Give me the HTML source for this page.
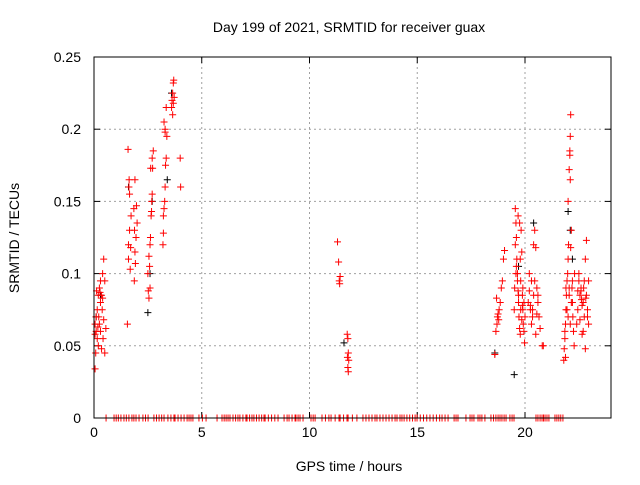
<!DOCTYPE html>
<html><head><meta charset="utf-8"><style>
body{margin:0;background:#fff;width:640px;height:480px;overflow:hidden}
svg text{font-family:"Liberation Sans",sans-serif;font-size:14px;fill:#000}
</style></head><body>
<svg id="chart" width="640" height="480" xmlns="http://www.w3.org/2000/svg">
<text x="349" y="32" text-anchor="middle">Day 199 of 2021, SRMTID for receiver guax</text>
<text x="349" y="471" text-anchor="middle">GPS time / hours</text>
<text transform="translate(19,238) rotate(-90)" text-anchor="middle">SRMTID / TECUs</text>
<g id="grid"></g><g id="ticks"></g><g id="black"></g><g id="red"></g>
<rect x="94" y="57" width="517" height="361" fill="none" stroke="#000" stroke-width="1"/>
</svg>
<script>
const xTicks=[0,5,10,15,20];
const yTicks=[0,0.05,0.1,0.15,0.2,0.25];
const yTickLabels=["0","0.05","0.1","0.15","0.2","0.25"];
const redT=[0.05,0.05,0.1,0.1,0.15,0.15,0.2,0.2,0.25,0.25,0.3,0.3,0.35,0.35,0.4,0.4,0.45,0.45,0.5,0.5,0.55,0.08,0.12,0.22,0.3,0.38,0.18,0.42,0.05,0.28,
1.55,1.58,1.6,1.6,1.62,1.63,1.65,1.65,1.68,1.7,1.72,1.85,1.88,1.9,1.92,1.95,1.97,2.0,1.9,1.87,
2.5,2.52,2.55,2.58,2.6,2.62,2.65,2.68,2.7,2.72,2.75,2.6,2.63,2.67,2.55,2.7,
3.2,3.22,3.25,3.28,3.3,3.32,3.35,3.38,3.3,3.25,3.35,3.22,3.3,
3.6,3.62,3.65,3.68,3.7,3.72,3.65,3.68,4.0,4.02,
11.3,11.35,11.38,11.4,11.42,11.75,11.78,11.8,11.82,11.78,11.8,11.76,
18.6,18.65,18.7,18.72,18.75,18.8,18.85,18.9,18.95,19.0,19.05,18.68,18.78,
19.5,19.52,19.55,19.58,19.6,19.62,19.65,19.68,19.7,19.72,19.75,19.78,19.8,19.82,19.85,19.88,19.9,19.92,19.95,19.98,20.0,19.55,19.6,19.65,19.7,19.75,19.8,19.85,19.9,19.95,19.58,19.68,19.78,19.88,
20.15,20.2,20.25,20.3,20.35,20.4,20.45,20.5,20.55,20.6,20.65,20.7,20.8,20.85,20.2,20.3,20.4,20.5,20.6,20.25,20.35,20.45,20.55,
21.8,21.82,21.85,21.88,21.9,21.92,21.95,21.98,22.0,22.02,22.05,22.08,22.1,22.12,22.15,22.18,22.2,22.22,22.25,22.28,22.3,21.85,21.9,21.95,22.0,22.05,22.1,22.15,22.2,21.88,22.0,22.1,22.08,22.12,22.05,
22.4,22.45,22.5,22.55,22.6,22.65,22.7,22.75,22.8,22.85,22.9,22.95,22.5,22.6,22.7,22.8,22.9,22.45,22.55,22.65,22.75,22.85,22.95,22.62,22.72,22.82];
const redV=[0.034,0.065,0.06,0.07,0.055,0.075,0.05,0.085,0.065,0.09,0.08,0.06,0.085,0.048,0.1,0.083,0.11,0.068,0.095,0.045,0.062,0.045,0.088,0.07,0.095,0.075,0.063,0.055,0.058,0.087,
0.065,0.186,0.11,0.12,0.16,0.165,0.155,0.13,0.103,0.118,0.14,0.145,0.13,0.115,0.107,0.125,0.147,0.135,0.165,0.095,
0.1,0.088,0.083,0.105,0.12,0.125,0.14,0.15,0.155,0.173,0.185,0.09,0.173,0.143,0.112,0.18,
0.12,0.14,0.145,0.15,0.16,0.175,0.18,0.195,0.2,0.205,0.215,0.128,0.198,
0.215,0.22,0.225,0.232,0.234,0.222,0.21,0.218,0.18,0.16,
0.122,0.108,0.095,0.093,0.098,0.058,0.055,0.045,0.04,0.035,0.032,0.042,
0.044,0.06,0.065,0.07,0.072,0.075,0.08,0.09,0.095,0.11,0.116,0.083,0.068,
0.075,0.09,0.145,0.135,0.125,0.11,0.1,0.088,0.08,0.07,0.062,0.11,0.095,0.13,0.115,0.085,0.075,0.065,0.06,0.052,0.07,0.12,0.105,0.095,0.085,0.135,0.075,0.068,0.09,0.08,0.1,0.14,0.058,0.078,
0.08,0.088,0.075,0.095,0.07,0.085,0.13,0.118,0.09,0.08,0.07,0.062,0.05,0.05,0.1,0.065,0.12,0.058,0.085,0.078,0.075,0.095,0.072,
0.04,0.048,0.055,0.065,0.075,0.085,0.095,0.1,0.11,0.12,0.172,0.182,0.195,0.21,0.13,0.09,0.08,0.07,0.06,0.05,0.1,0.06,0.09,0.075,0.07,0.085,0.065,0.08,0.095,0.042,0.15,0.165,0.185,0.118,0.09,
0.065,0.075,0.1,0.085,0.09,0.078,0.06,0.095,0.11,0.085,0.07,0.065,0.095,0.088,0.08,0.048,0.075,0.088,0.068,0.058,0.07,0.123,0.095,0.082,0.09,0.083];
const blackT=[0.1,0.3,1.6,2.5,2.6,2.7,3.4,3.6,11.6,18.6,19.5,19.7,20.4,22.0,22.1,22.2];
const blackV=[0.07,0.085,0.16,0.073,0.1,0.15,0.165,0.225,0.052,0.045,0.03,0.105,0.135,0.143,0.13,0.11];
const zeroT=[0.56,0.93,1.03,1.13,1.25,1.39,1.5,1.62,1.76,1.85,1.95,2.09,2.27,2.39,2.51,2.78,2.9,3.02,3.14,3.25,3.43,3.57,3.71,3.76,3.9,4.04,4.18,4.32,4.41,4.5,4.59,4.87,5.03,5.2,5.71,5.94,6.04,6.13,6.22,6.31,6.45,6.57,6.68,6.77,6.91,7.05,7.1,7.22,7.33,7.42,7.54,7.66,7.78,7.89,7.94,8.09,8.24,8.39,8.54,8.82,8.96,9.05,9.19,9.33,9.37,9.47,9.56,9.7,10.07,10.17,10.26,10.58,10.74,10.9,11.0,11.19,11.37,11.42,11.58,11.74,11.79,11.99,12.2,12.48,12.62,12.76,12.9,13.04,13.13,13.27,13.41,13.55,13.69,13.83,13.97,14.06,14.2,14.29,14.39,14.52,14.65,14.78,14.9,14.99,15.14,15.29,15.44,15.59,15.74,15.89,16.04,16.15,16.29,16.43,16.71,16.8,16.89,17.26,17.45,17.54,17.63,17.82,17.91,18.0,18.14,18.42,18.54,18.65,18.75,18.84,18.93,19.03,19.12,19.3,19.4,19.49,20.51,20.6,20.7,20.79,20.86,20.93,21.02,21.11,21.39,21.48,21.57,21.66,21.76];
const X=t=>94+t*21.55, Y=v=>418-v*1444;
const ns="http://www.w3.org/2000/svg";
function mk(tag,attrs,parent){const e=document.createElementNS(ns,tag);for(const k in attrs)e.setAttribute(k,attrs[k]);parent.appendChild(e);return e;}
const grid=document.getElementById('grid'),ticks=document.getElementById('ticks');
xTicks.forEach(t=>{const x=X(t);
 if(t>0){const g=mk('line',{x1:x,y1:57,x2:x,y2:418,stroke:'#a0a0a0','stroke-dasharray':'2,3'},grid);
 
 }
 mk('line',{x1:x,y1:418,x2:x,y2:412,stroke:'#000'},ticks);mk('line',{x1:x,y1:57,x2:x,y2:63,stroke:'#000'},ticks);
 const l=mk('text',{x:x,y:437,'text-anchor':'middle'},ticks);l.textContent=t;
 
 });
yTicks.forEach((v,i)=>{const y=Y(v);
 if(v>0&&v<0.25){const g=mk('line',{x1:94,y1:y,x2:611,y2:y,stroke:'#a0a0a0','stroke-dasharray':'2,3'},grid);
 
 }
 mk('line',{x1:94,y1:y,x2:100,y2:y,stroke:'#000'},ticks);mk('line',{x1:611,y1:y,x2:605,y2:y,stroke:'#000'},ticks);
 const l=mk('text',{x:81,y:y+5,'text-anchor':'end'},ticks);l.textContent=yTickLabels[i];
 
 });
function plus(g,t,v,c,name){const x=X(t),y=Y(v);
 const p=mk('path',{d:`M${x-3.5},${y}H${x+3.5}M${x},${y-3.5}V${y+3.5}`,stroke:c,'stroke-width':1,fill:'none'},g);
 
 }
const gb=document.getElementById('black'),gr=document.getElementById('red');
blackT.forEach((t,i)=>plus(gb,t,blackV[i],'#000','black-point'));
redT.forEach((t,i)=>plus(gr,t,redV[i],'#f00','red-point'));
zeroT.forEach(t=>plus(gr,t,0,'#f00','zero-point'));
</script>
</body></html>
